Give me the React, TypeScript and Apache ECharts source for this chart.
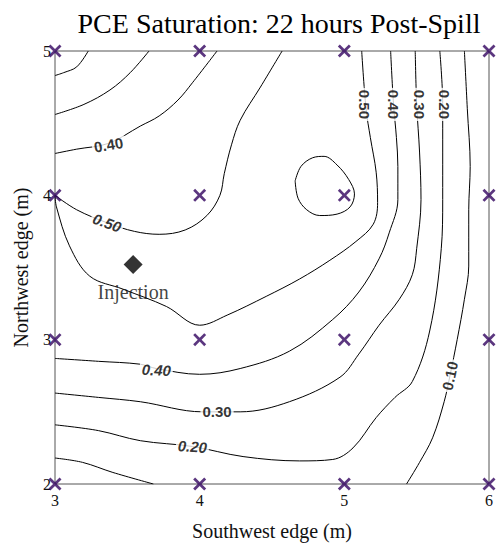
import React, { useEffect, useRef } from "react";
import * as echarts from "echarts";

const xTicks = [3, 4, 5, 6];
const yTicks = [2, 3, 4, 5];
const injection = [3.54, 3.52];

// contour polylines, [x, y] in metres
const c020TopLeft = [[3.23, 5], [3.15, 4.89], [3.06, 4.85], [3, 4.83]];
const c030TopLeft = [[3.65, 5], [3.52, 4.85], [3.38, 4.73], [3.2, 4.63], [3, 4.56]];
const c040Upper = [[3, 4.29], [3.15, 4.32], [3.37, 4.36], [3.59, 4.48], [3.72, 4.55], [3.85, 4.66], [3.95, 4.78], [4.12, 5]];
const c050Upper = [[3, 4.0], [3.15, 3.9], [3.36, 3.81], [3.55, 3.75], [3.72, 3.73], [3.9, 3.76], [4.05, 3.86], [4.14, 4.0], [4.17, 4.15], [4.22, 4.35], [4.28, 4.52], [4.42, 4.75], [4.57, 5]];
const c050Lower = [[3, 4.0], [3.01, 3.92], [3.1, 3.65], [3.24, 3.44], [3.47, 3.35], [3.77, 3.23], [4.0, 3.1], [4.19, 3.17], [4.46, 3.3], [4.69, 3.42], [4.9, 3.55], [5.08, 3.68], [5.2, 3.8], [5.23, 3.95], [5.22, 4.16], [5.18, 4.4], [5.15, 4.6], [5.12, 5]];
const c060Island = [[4.66, 4.1], [4.7, 4.2], [4.78, 4.26], [4.86, 4.27], [4.95, 4.21], [5.03, 4.11], [5.07, 4.01], [5.04, 3.92], [4.95, 3.87], [4.83, 3.86], [4.74, 3.9], [4.68, 3.98], [4.66, 4.1]];
const c040Lower = [[3, 2.87], [3.3, 2.85], [3.59, 2.83], [3.7, 2.8], [4.0, 2.76], [4.28, 2.8], [4.62, 2.92], [4.92, 3.14], [5.1, 3.33], [5.24, 3.56], [5.31, 3.74], [5.37, 3.97], [5.37, 4.2], [5.36, 4.4], [5.34, 4.63], [5.32, 5]];
const c030Lower = [[3, 2.63], [3.3, 2.6], [3.59, 2.57], [4.02, 2.5], [4.28, 2.5], [4.62, 2.57], [4.97, 2.74], [5.1, 2.9], [5.24, 3.1], [5.38, 3.28], [5.47, 3.45], [5.5, 3.63], [5.53, 3.97], [5.52, 4.3], [5.5, 4.63], [5.49, 5]];
const c020Lower = [[3, 2.41], [3.3, 2.37], [3.59, 2.3], [3.95, 2.26], [4.3, 2.19], [4.69, 2.16], [4.92, 2.17], [5.06, 2.25], [5.22, 2.46], [5.35, 2.6], [5.47, 2.71], [5.59, 3.06], [5.67, 3.63], [5.68, 3.97], [5.68, 4.3], [5.68, 4.63], [5.66, 5]];
const c010Right = [[5.83, 5], [5.85, 4.6], [5.87, 4.2], [5.86, 3.9], [5.86, 3.51], [5.83, 3.28], [5.78, 3.0], [5.73, 2.75], [5.69, 2.57], [5.61, 2.32], [5.52, 2.15], [5.43, 2.0]];
const c010BottomLeft = [[3, 2.18], [3.19, 2.15], [3.4, 2.08], [3.68, 2.0]];

const contours = [c020TopLeft, c030TopLeft, c040Upper, c050Upper, c050Lower, c060Island, c040Lower, c030Lower, c020Lower, c010Right, c010BottomLeft];

const labelTexts = ["0.40", "0.50", "0.40", "0.30", "0.20", "0.50", "0.40", "0.30", "0.20", "0.10"];
const labelX = [3.37, 3.36, 3.7, 4.12, 3.95, 5.14, 5.34, 5.52, 5.69, 5.73];
const labelY = [4.35, 3.81, 2.79, 2.5, 2.26, 4.63, 4.63, 4.63, 4.63, 2.75];
const labelAngle = [10, -20, -3, 0, -4, -90, -90, -90, -90, 78];
const labelSlanted = [false, true, true, false, true, false, false, false, false, false];

const MARK = "#32045f";
const SERIF = "Liberation Serif";
const X_SYMBOL = "path://M0 1.8L1.8 0L6 4.2L10.2 0L12 1.8L7.8 6L12 10.2L10.2 12L6 7.8L1.8 12L0 10.2L4.2 6Z";

const tickRich = { t: { fontFamily: SERIF, fontSize: 16, color: "#111" } };

export default function App() {
  const ref = useRef<HTMLDivElement>(null);
  useEffect(() => {
    const chart = echarts.init(ref.current!, null, { renderer: "svg" });
    const sensors: number[][] = [];
    xTicks.forEach((x) => yTicks.forEach((y) => sensors.push([x, y])));

    const lineSeries = contours.map((c) => ({
      type: "line",
      data: c,
      smooth: 0.35,
      showSymbol: false,
      symbol: "none",
      lineStyle: { color: "#000", width: 1 },
      z: 2,
      silent: true,
    }));

    chart.setOption({
      animation: false,
      textStyle: { fontFamily: SERIF },
      title: {
        text: "PCE Saturation: 22 hours Post-Spill",
        left: 274,
        top: 4,
        textAlign: "center",
        textStyle: { fontFamily: SERIF, fontSize: 28, fontWeight: "normal", color: "#000" },
      },
      grid: { left: 55, right: 6, top: 51, bottom: 60, show: true, borderColor: "#555", borderWidth: 1, backgroundColor: "transparent" },
      xAxis: {
        type: "value",
        min: 3,
        max: 6,
        interval: 1,
        name: "Southwest edge (m)",
        nameLocation: "middle",
        nameGap: 37,
        nameTextStyle: { fontFamily: SERIF, fontSize: 20, color: "#111" },
        axisLine: { show: false },
        axisTick: { show: false },
        splitLine: { show: false },
        axisLabel: { fontFamily: SERIF, fontSize: 16, color: "#111", margin: 8, formatter: "{t|{value}}", rich: tickRich },
      },
      yAxis: {
        type: "value",
        min: 2,
        max: 5,
        interval: 1,
        name: "Northwest edge (m)",
        nameLocation: "middle",
        nameRotate: 90,
        nameGap: 24,
        nameTextStyle: { fontFamily: SERIF, fontSize: 20, color: "#111" },
        axisLine: { show: false },
        axisTick: { show: false },
        splitLine: { show: false },
        axisLabel: { fontFamily: SERIF, fontSize: 16, color: "#111", margin: 4, formatter: "{t|{value}}", rich: tickRich },
      },
      series: [
        ...lineSeries,
        {
          type: "scatter",
          data: labelTexts.map((t, i) => ({
            name: t,
            value: [labelX[i], labelY[i]],
            label: { rotate: labelAngle[i], fontStyle: labelSlanted[i] ? "italic" : "normal" },
          })),
          symbolSize: 0,
          z: 4,
          silent: true,
          label: {
            show: true,
            position: "inside",
            formatter: "{b}",
            fontFamily: "Liberation Sans",
            fontWeight: "bold",
            fontSize: 15,
            color: "#000",
            backgroundColor: "#fff",
            padding: [0, 2],
          },
        },
        {
          type: "scatter",
          data: sensors,
          symbol: X_SYMBOL,
          symbolSize: 13,
          itemStyle: { color: MARK },
          z: 6,
          clip: false,
          silent: true,
        },
        {
          type: "scatter",
          data: [injection],
          symbol: "diamond",
          symbolSize: 19,
          itemStyle: { color: "#000" },
          z: 5,
          silent: true,
          label: {
            show: true,
            position: "bottom",
            distance: 8,
            formatter: "Injection",
            fontFamily: SERIF,
            fontSize: 20,
            color: "#111",
          },
        },
      ],
    });
    return () => chart.dispose();
  }, []);
  return <div ref={ref} style={{ position: "absolute", left: 0, top: 0, width: 496, height: 546 }} />;
}
